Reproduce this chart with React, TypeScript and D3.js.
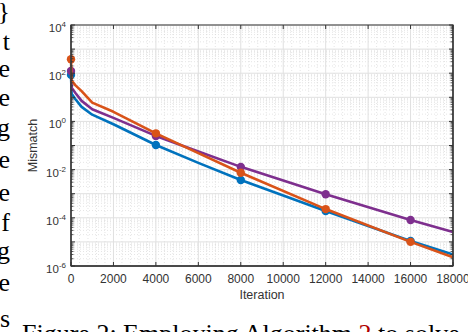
import React from "react";
import * as d3 from "d3";

const iterations = [0, 30, 200, 500, 1000, 2000, 4000, 6000, 8000, 12000, 16000, 18000];
const blueValues = [8.5e1, 1.4e1, 8.5, 4.0, 1.9, 7.6e-1, 1.05e-1, 1.9e-2, 3.7e-3, 1.9e-4, 1.1e-5, 3.0e-6];
const purpleValues = [1.23e2, 2.5e1, 1.55e1, 7.1, 3.2, 1.4, 2.5e-1, 5.6e-2, 1.3e-2, 9.5e-4, 8.1e-5, 2.6e-5];
const orangeValues = [3.8e2, 5.0e1, 3.2e1, 1.8e1, 6.0, 2.5, 3.2e-1, 4.8e-2, 7.4e-3, 2.3e-4, 1.0e-5, 2.3e-6];
const markerIterations = [0, 4000, 8000, 12000, 16000];
const xTicks = [0, 2000, 4000, 6000, 8000, 10000, 12000, 14000, 16000, 18000];
const yDecades = [-6, -4, -2, 0, 2, 4];
const xLabel = "Iteration";
const yLabel = "Mismatch";
const sideLetters = ["}", "t", "e", "e", "g", "e", "e", "f", "g", "e", "s"];
const sideBaselines = [20, 50, 77, 106, 136, 168, 201, 231, 259, 291, 327];

const W = 468;
const H = 332;
const L = 71, R = 453, T = 25, B = 266;

const series = [
  { name: "blue", values: blueValues, color: "#0072BD" },
  { name: "purple", values: purpleValues, color: "#7E2F8E" },
  { name: "orange", values: orangeValues, color: "#D95319" },
];

export default function App() {
  const x = d3.scaleLinear().domain([0, 18000]).range([L, R]);
  const y = d3.scaleLog().domain([1e-6, 1e4]).range([B, T]);

  const minorY: number[] = [];
  for (let e = -6; e < 4; e++) {
    for (let k = 2; k <= 9; k++) minorY.push(k * Math.pow(10, e));
  }
  const minorX: number[] = d3.range(0, 18001, 400).filter((v) => v % 2000 !== 0);
  const majorY = d3.range(-6, 5).map((e) => Math.pow(10, e));

  const line = d3
    .line<number>()
    .x((_, i) => x(iterations[i]))
    .y((d) => y(d));

  const font = "'Liberation Sans', Arial, sans-serif";
  const serif = "'Liberation Serif', 'Times New Roman', serif";

  return (
    <svg
      width={W}
      height={H}
      style={{ position: "fixed", left: 0, top: 0, display: "block", background: "#fff" }}
    >
      <rect x={0} y={0} width={W} height={H} fill="#fff" />
      {sideLetters.map((c, i) => (
        <text
          key={"s" + i}
          x={10}
          y={sideBaselines[i]}
          textAnchor="end"
          fontFamily={serif}
          fontSize={26}
          fill="#000"
        >
          {c}
        </text>
      ))}
      <text x={22} y={342} fontFamily={serif} fontSize={26} fill="#000">
        Figure 2: Employing Algorithm <tspan fill="#b00000">2</tspan> to solve
      </text>

      <g>
        {minorX.map((v) => (
          <line key={"mx" + v} x1={x(v)} x2={x(v)} y1={T} y2={B} stroke="#d4d4d4" strokeWidth={0.6} strokeDasharray="1,2" />
        ))}
        {minorY.map((v, i) => (
          <line key={"my" + i} x1={L} x2={R} y1={y(v)} y2={y(v)} stroke="#d4d4d4" strokeWidth={0.6} strokeDasharray="1,2" />
        ))}
        {xTicks.map((v) => (
          <line key={"gx" + v} x1={x(v)} x2={x(v)} y1={T} y2={B} stroke="#e0e0e0" strokeWidth={1} />
        ))}
        {majorY.map((v, i) => (
          <line key={"gy" + i} x1={L} x2={R} y1={y(v)} y2={y(v)} stroke="#e0e0e0" strokeWidth={1} />
        ))}
      </g>

      {series.map((s) => (
        <g key={s.name}>
          <path d={line(s.values) || ""} fill="none" stroke={s.color} strokeWidth={2.6} strokeLinejoin="round" />
          {markerIterations.map((it) => {
            const idx = iterations.indexOf(it);
            return <circle key={it} cx={x(it)} cy={y(s.values[idx])} r={4.2} fill={s.color} />;
          })}
        </g>
      ))}

      <rect x={L} y={T} width={R - L} height={B - T} fill="none" stroke="#6a6a6a" strokeWidth={1.4} />
      <line x1={L} x2={L} y1={T} y2={B} stroke="#333" strokeWidth={1.4} />
      <line x1={L} x2={R} y1={B} y2={B} stroke="#333" strokeWidth={1.4} />
      <line x1={R} x2={R} y1={T} y2={B} stroke="#333" strokeWidth={1.4} />

      {xTicks.map((v) => (
        <g key={"tx" + v}>
          <line x1={x(v)} x2={x(v)} y1={B} y2={B - 4} stroke="#333" strokeWidth={1} />
          <line x1={x(v)} x2={x(v)} y1={T} y2={T + 4} stroke="#333" strokeWidth={1} />
          <text x={x(v)} y={283} textAnchor="middle" fontFamily={font} fontSize={12} fill="#333">
            {v}
          </text>
        </g>
      ))}
      {majorY.map((v, i) => (
        <g key={"ty" + i}>
          <line x1={L} x2={L + 4} y1={y(v)} y2={y(v)} stroke="#333" strokeWidth={1} />
          <line x1={R} x2={R - 4} y1={y(v)} y2={y(v)} stroke="#333" strokeWidth={1} />
        </g>
      ))}
      {minorY.map((v, i) => (
        <g key={"tmy" + i}>
          <line x1={L} x2={L + 2.5} y1={y(v)} y2={y(v)} stroke="#333" strokeWidth={0.8} />
          <line x1={R} x2={R - 2.5} y1={y(v)} y2={y(v)} stroke="#333" strokeWidth={0.8} />
        </g>
      ))}
      {yDecades.map((e) => {
        const yy = y(Math.pow(10, e));
        return (
          <text key={"yl" + e} x={66} y={yy + 7} textAnchor="end" fontFamily={font} fontSize={11.5} fill="#333">
            10
            <tspan dy={-5} fontSize={8}>
              {e}
            </tspan>
          </text>
        );
      })}

      <text x={(L + R) / 2} y={299} textAnchor="middle" fontFamily={font} fontSize={12.5} fill="#333">
        {xLabel}
      </text>
      <text
        transform={`translate(37, ${(T + B) / 2}) rotate(-90)`}
        textAnchor="middle"
        fontFamily={font}
        fontSize={12.5}
        fill="#333"
      >
        {yLabel}
      </text>
    </svg>
  );
}
